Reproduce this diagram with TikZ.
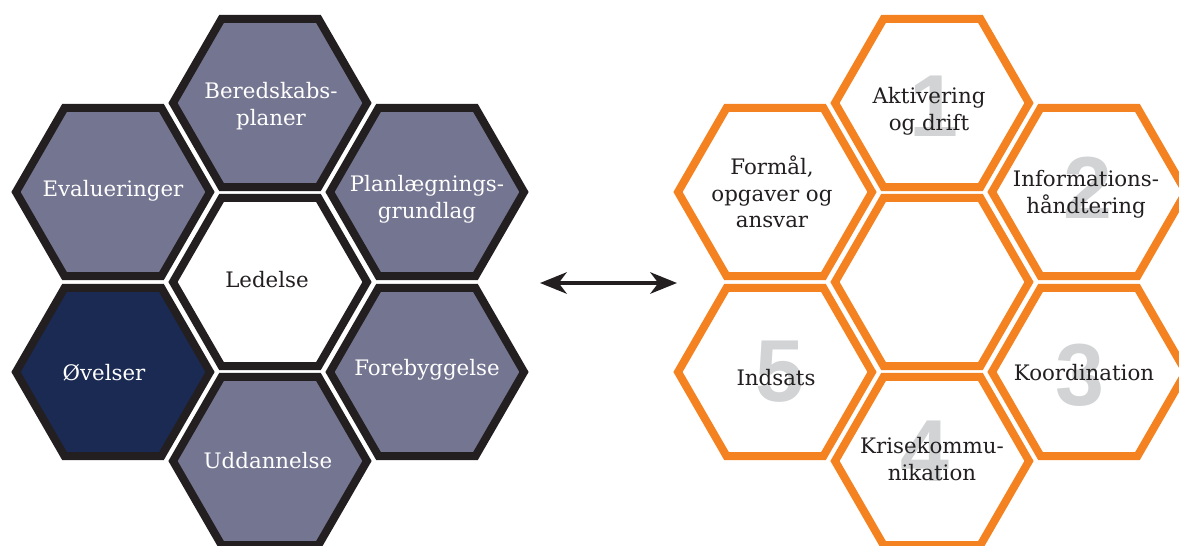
\documentclass[tikz,border=0pt]{standalone}
\usepackage{fontspec}
\setmainfont{DejaVu Serif}
\newfontfamily\digitfont{Liberation Sans}
\usetikzlibrary{shapes.geometric,arrows.meta}
\definecolor{hexfill}{RGB}{116,117,145}
\definecolor{navyfill}{RGB}{26,42,82}
\definecolor{hexborder}{RGB}{35,31,32}
\definecolor{hexorange}{RGB}{245,130,32}
\definecolor{digitgray}{RGB}{209,211,212}
\definecolor{textdark}{RGB}{35,31,32}
\begin{document}
\begin{tikzpicture}[x=0.75pt,y=-0.75pt,
  hexbase/.style={regular polygon,regular polygon sides=6,minimum size=145.5pt,inner sep=0pt,line width=6pt},
  darkhex/.style={hexbase,draw=hexborder,fill=hexfill},
  navyhex/.style={hexbase,draw=hexborder,fill=navyfill},
  whitehex/.style={hexbase,draw=hexborder,fill=white},
  orangehex/.style={hexbase,draw=hexorange,fill=white},
  lbl/.style={align=center,font=\fontsize{16}{20}\selectfont,inner sep=0pt},
  lightlbl/.style={lbl,text=white},
  darklbl/.style={lbl,text=textdark},
  digit/.style={font=\digitfont\bfseries\fontsize{66}{66}\selectfont,text=digitgray,inner sep=0pt},
  dblarrow/.style={line width=3pt,draw=hexborder,>={Stealth[length=20pt,width=16pt,inset=6pt]},<->}
]
\useasboundingbox (0,0) rectangle (1179,546);
\clip (0,0) rectangle (1179,546);
% left cluster
\node[darkhex]  (hB) at (270,103) {};
\node[darkhex]  (hE) at (113,192) {};
\node[darkhex]  (hP) at (427,192) {};
\node[whitehex] (hL) at (270,282) {};
\node[navyhex]  (hO) at (113,372) {};
\node[darkhex]  (hF) at (427,372) {};
\node[darkhex]  (hU) at (270,461) {};
\node[lightlbl] (tB) at (271,106) {Beredskabs-\\planer};
\node[lightlbl] (tE) at (113,191) {Evalueringer};
\node[lightlbl] (tP) at (427,199) {Planlægnings-\\grundlag};
\node[darklbl]  (tL) at (267,280) {Ledelse};
\node[lightlbl] (tO) at (104,373) {Øvelser};
\node[lightlbl] (tF) at (427,370) {Forebyggelse};
\node[lightlbl] (tU) at (268,461) {Uddannelse};
% arrow
\coordinate (aL) at (540,283);
\coordinate (aR) at (677,283);
\draw[dblarrow] (aL) -- (aR);
% right cluster
\node[orangehex] (rA) at (932,103) {};
\node[orangehex] (rF) at (775,192) {};
\node[orangehex] (rI) at (1089,192) {};
\node[orangehex] (rC) at (932,282) {};
\node[orangehex] (rS) at (775,372) {};
\node[orangehex] (rK) at (1089,372) {};
\node[orangehex] (rR) at (932,461) {};
\node[digit] (d1) at (934,106) {1};
\node[digit] (d2) at (1088,188) {2};
\node[digit] (d3) at (1080,375) {3};
\node[digit] (d4) at (925,451) {4};
\node[digit] (d5) at (780,372) {5};
\node[darklbl] (sA) at (929,111) {Aktivering\\og drift};
\node[darklbl] (sF) at (772,192) {Formål,\\opgaver og\\ansvar};
\node[darklbl] (sI) at (1086,194) {Informations-\\håndtering};
\node[darklbl] (sS) at (776,378) {Indsats};
\node[darklbl] (sK) at (1084,373) {Koordination};
\node[darklbl] (sR) at (932,459) {Krisekommu-\\nikation};
\end{tikzpicture}
\end{document}
